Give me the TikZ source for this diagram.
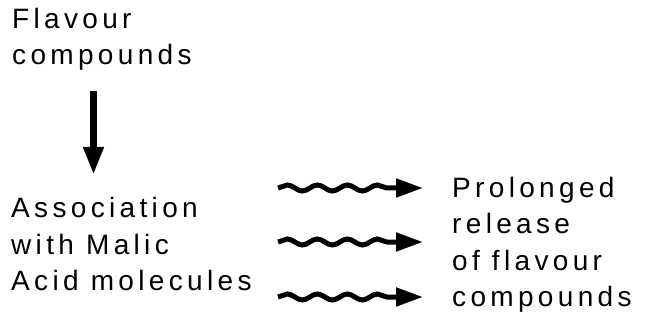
\documentclass[tikz,border=0pt]{standalone}
\usepackage{fontspec}
\setmainfont{Liberation Sans}
\newfontfamily\labfont[LetterSpace=15.5]{Liberation Sans}
\usetikzlibrary{arrows.meta,decorations.pathmorphing}
\begin{document}
\begin{tikzpicture}[x=1pt,y=-1pt,
  lab/.style={inner sep=0pt, anchor=base west, align=left,
    font=\labfont\fontsize{28pt}{36.5pt}\selectfont},
  bigarrow/.style={line width=7pt, -{Triangle[width=19pt,length=28pt]}},
  wavyarrow/.style={line width=5pt, -{Triangle[width=18pt,length=27pt]},
    decorate, decoration={snake, amplitude=3pt, segment length=30pt, post length=28pt}}]
\useasboundingbox (0,0) rectangle (647,320);
\node[lab] (flav) at (12,65) {Flavour\\compounds};
\node[lab] (assoc) at (11,290.5) {Association\\with Malic\\Acid molecules};
\node[lab] (rel) at (452,306.5) {Prolonged\\release\\of flavour\\compounds};
\coordinate (a1) at (93.5,91);
\coordinate (a2) at (93.5,175);
\draw[bigarrow] (a1) -- (a2);
\coordinate (w1s) at (278,188);
\coordinate (w1e) at (423,188);
\coordinate (w2s) at (278,242);
\coordinate (w2e) at (423,242);
\coordinate (w3s) at (278,297);
\coordinate (w3e) at (423,297);
\draw[wavyarrow] (w1s) -- (w1e);
\draw[wavyarrow] (w2s) -- (w2e);
\draw[wavyarrow] (w3s) -- (w3e);
\end{tikzpicture}
\end{document}
